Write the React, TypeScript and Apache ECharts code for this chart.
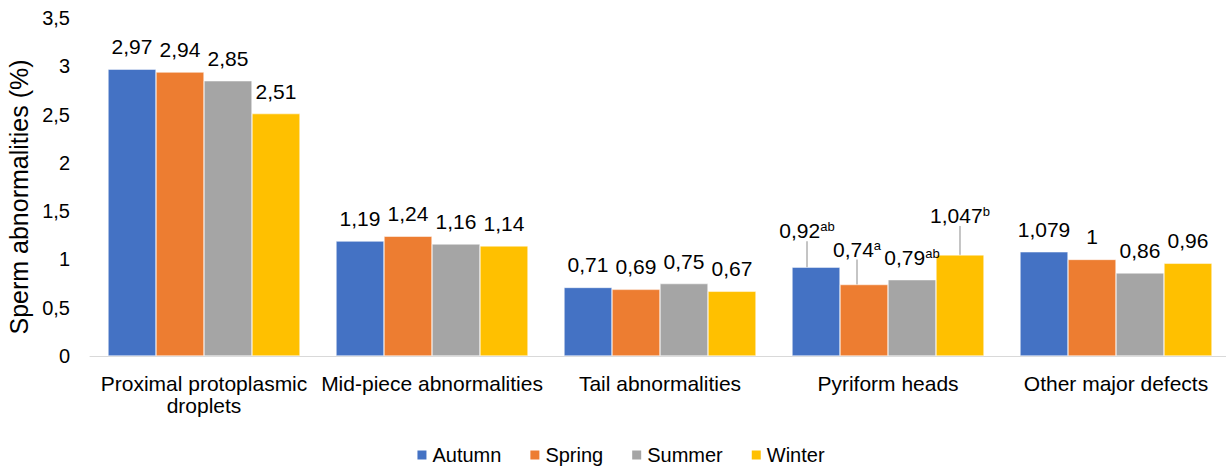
import React, { useEffect, useRef } from "react";
import * as echarts from "echarts";

const categories = [
  "Proximal protoplasmic\ndroplets",
  "Mid-piece abnormalities",
  "Tail abnormalities",
  "Pyriform heads",
  "Other major defects",
];
const seasons = ["Autumn", "Spring", "Summer", "Winter"];
const autumn = [2.97, 1.19, 0.71, 0.92, 1.079];
const spring = [2.94, 1.24, 0.69, 0.74, 1];
const summer = [2.85, 1.16, 0.75, 0.79, 0.86];
const winter = [2.51, 1.14, 0.67, 1.047, 0.96];
const supAutumn = ["", "", "", "ab", ""];
const supSpring = ["", "", "", "a", ""];
const supSummer = ["", "", "", "ab", ""];
const supWinter = ["", "", "", "b", ""];
const yTicks = [0, 0.5, 1, 1.5, 2, 2.5, 3, 3.5];

const colors = ["#4472C4", "#ED7D31", "#A5A5A5", "#FFC000"];
const FONT = "'Liberation Sans', Arial, sans-serif";

const fmt = (v: number) => String(v).replace(".", ",");

// label nudges for the leader-lined labels ("seriesIndex-dataIndex" -> [dx, dy])
const nudges: Record<string, [number, number]> = {
  "0-3": [-9, -14],
  "1-3": [-7, -13],
  "3-3": [0, -17],
};

export default function App() {
  const ref = useRef<HTMLDivElement>(null);
  useEffect(() => {
    if (!ref.current) return;
    const chart = echarts.init(ref.current, undefined, { renderer: "svg" });
    const allValues = [autumn, spring, summer, winter];
    const allSups = [supAutumn, supSpring, supSummer, supWinter];
    const series = seasons.map((name, si) => ({
      name,
      type: "bar",
      barGap: "0%",
      barCategoryGap: "15.8%",
      itemStyle: { color: colors[si], borderColor: "#ffffff", borderWidth: 0.5 },
      data: allValues[si].map((v, di) =>
        nudges[`${si}-${di}`] ? { value: v, labelLine: { show: true } } : v
      ),
      label: {
        show: true,
        position: "top",
        distance: 12,
        formatter: (p: any) => {
          const sup = allSups[p.seriesIndex][p.dataIndex];
          const v = fmt(p.value);
          return sup ? `{v|${v}}{s|${sup}}` : `{v|${v}}`;
        },
        rich: {
          v: { fontSize: 21, color: "#000000", fontFamily: FONT },
          s: { fontSize: 13, color: "#000000", fontFamily: FONT, verticalAlign: "top" },
        },
      },
      labelLine: {
        show: false,
        lineStyle: { color: "#a6a6a6", width: 1.3 },
      },
      labelLayout: (params: any) => {
        const n = nudges[`${params.seriesIndex}-${params.dataIndex}`];
        if (n) return { dx: n[0], dy: n[1] };
        return {};
      },
    }));

    chart.setOption({
      animation: false,
      color: colors,
      textStyle: { fontFamily: FONT },
      grid: {
        left: 90,
        top: 18,
        width: 1140,
        height: 338,
        containLabel: false,
        outerBoundsMode: "none",
      },
      legend: {
        data: seasons,
        left: "center",
        top: 440,
        icon: "rect",
        itemWidth: 11,
        itemHeight: 11,
        itemGap: 27,
        textStyle: { fontSize: 20, color: "#000000", fontFamily: FONT },
      },
      xAxis: {
        type: "category",
        data: categories,
        axisLine: { show: true, lineStyle: { color: "#d9d9d9", width: 1 } },
        axisTick: { show: false },
        axisLabel: {
          interval: 0,
          fontSize: 21,
          lineHeight: 22,
          margin: 16,
          color: "#000000",
          fontFamily: FONT,
        },
      },
      yAxis: {
        type: "value",
        min: yTicks[0],
        max: yTicks[yTicks.length - 1],
        interval: 0.5,
        name: "Sperm abnormalities (%)",
        nameLocation: "middle",
        nameRotate: 90,
        nameGap: 58,
        nameTextStyle: {
          fontSize: 25,
          color: "#000000",
          fontFamily: FONT,
          padding: [0, 20, 0, 0],
        },
        axisLine: { show: false },
        axisTick: { show: false },
        splitLine: { show: false },
        axisLabel: {
          fontSize: 20,
          margin: 20,
          color: "#000000",
          fontFamily: FONT,
          formatter: (v: number) => fmt(v),
        },
      },
      series,
    });
    return () => chart.dispose();
  }, []);
  return (
    <div
      style={{
        position: "fixed",
        left: 0,
        top: 0,
        width: 1226,
        height: 468,
        overflow: "hidden",
        background: "#ffffff",
      }}
    >
      <div ref={ref} style={{ width: 1240, height: 468 }} />
    </div>
  );
}
